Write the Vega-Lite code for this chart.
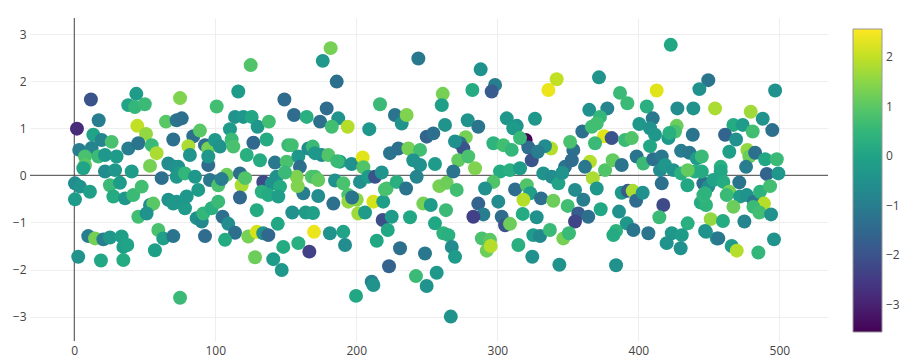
{
"$schema":"https://vega.github.io/schema/vega-lite/v6.json",
"width":798,"height":323,
"autosize":{"type":"none"},
"padding":{"left":30,"top":18,"right":87,"bottom":22},
"background":"white",
"config":{"view":{"stroke":null},"font":"Open Sans"},
"datasets":{"pts":[
{"x":11.8,"y":1.61,"c":-2.0},{"x":1.9,"y":0.99,"c":-2.8},{"x":17.3,"y":1.17,"c":-1.0},{"x":44,"y":1.73,"c":-0.2},{"x":38.3,"y":1.49,"c":0.0},{"x":43,"y":1.45,"c":0.5},{"x":50,"y":1.51,"c":0.6},{"x":44.7,"y":1.05,"c":2.0},{"x":50.9,"y":0.88,"c":1.6},{"x":65,"y":1.14,"c":1.0},{"x":75,"y":1.64,"c":1.4},{"x":13.5,"y":0.86,"c":0},{"x":19.4,"y":0.75,"c":-0.8},{"x":26.5,"y":0.71,"c":0.8},{"x":3.5,"y":0.54,"c":-1.0},{"x":12.3,"y":0.58,"c":-0.8},{"x":7.6,"y":0.40,"c":0.8},{"x":7.6,"y":0.22,"c":1.0},{"x":6.4,"y":0.15,"c":0.0},{"x":17,"y":0.40,"c":0.6},{"x":21.8,"y":0.43,"c":-0.3},{"x":30,"y":0.40,"c":-0.2},{"x":21.8,"y":0.08,"c":-0.6},{"x":28.9,"y":0.11,"c":-0.3},{"x":38.3,"y":0.57,"c":-1.0},{"x":45.4,"y":0.68,"c":-1.2},{"x":54.9,"y":0.64,"c":0.6},{"x":58.4,"y":0.47,"c":1.8},{"x":53.7,"y":0.20,"c":1.3},{"x":62,"y":-0.06,"c":-1.3},{"x":66.7,"y":0.25,"c":-0.6},{"x":71.4,"y":0.18,"c":-0.5},{"x":40.7,"y":0.08,"c":-0.2},{"x":0.5,"y":-0.17,"c":-0.6},{"x":4,"y":-0.24,"c":-0.4},{"x":11.1,"y":-0.35,"c":-0.1},{"x":0.5,"y":-0.51,"c":-0.2},{"x":25.3,"y":-0.21,"c":0.6},{"x":32.4,"y":-0.16,"c":-0.2},{"x":27.7,"y":-0.45,"c":0.2},{"x":36,"y":-0.49,"c":-0.3},{"x":41.8,"y":-0.42,"c":0.6},{"x":47.8,"y":-0.24,"c":0.7},{"x":53.7,"y":-0.63,"c":-0.6},{"x":56,"y":-0.6,"c":1.0},{"x":45.4,"y":-0.88,"c":0.7},{"x":51.3,"y":-0.81,"c":-0.4},{"x":66.7,"y":-0.52,"c":-0.5},{"x":70.2,"y":-0.6,"c":-0.3},{"x":59.6,"y":-1.16,"c":0.8},{"x":63.1,"y":-1.34,"c":-0.1},{"x":70.2,"y":-1.29,"c":-1.2},{"x":57.2,"y":-1.59,"c":-0.1},{"x":9.9,"y":-1.29,"c":-1.0},{"x":14.7,"y":-1.34,"c":1.3},{"x":20.6,"y":-1.36,"c":-1.0},{"x":25.3,"y":-1.32,"c":-0.3},{"x":33.6,"y":-1.30,"c":-0.1},{"x":34.8,"y":-1.52,"c":-0.1},{"x":37.6,"y":-1.48,"c":0.0},{"x":2.8,"y":-1.73,"c":-0.4},{"x":18.9,"y":-1.81,"c":0.1},{"x":34.8,"y":-1.80,"c":0.2},{"x":75,"y":-2.6,"c":0.6},{"x":72.6,"y":1.17,"c":-1.2},{"x":70.2,"y":0.76,"c":-1.3},
{"x":125.1,"y":2.34,"c":0.9},{"x":116.3,"y":1.78,"c":-0.2},{"x":101,"y":1.46,"c":0.7},{"x":76.2,"y":1.21,"c":-1.3},{"x":149,"y":1.61,"c":-1.4},{"x":155.8,"y":1.28,"c":-1.4},{"x":164.8,"y":1.24,"c":0.3},{"x":114,"y":1.24,"c":-0.4},{"x":119.9,"y":1.24,"c":-0.3},{"x":125.8,"y":1.24,"c":0.1},{"x":130,"y":1.03,"c":-0.3},{"x":138,"y":1.14,"c":0.7},{"x":110.4,"y":0.98,"c":-0.2},{"x":84.4,"y":0.83,"c":-1.3},{"x":89.1,"y":0.95,"c":1.0},{"x":92.7,"y":0.64,"c":-1.4},{"x":80.9,"y":0.62,"c":1.8},{"x":82,"y":0.43,"c":-0.4},{"x":95,"y":0.57,"c":1.3},{"x":99.8,"y":0.75,"c":-0.3},{"x":103.3,"y":0.61,"c":-0.4},{"x":95,"y":0.22,"c":-1.4},{"x":111.6,"y":0.76,"c":0.6},{"x":112.8,"y":0.61,"c":0.8},{"x":127,"y":0.69,"c":-1.5},{"x":136.4,"y":0.76,"c":0.2},{"x":122.3,"y":0.43,"c":0.3},{"x":131.7,"y":0.32,"c":0.2},{"x":142.3,"y":0.27,"c":-1.1},{"x":151.8,"y":0.64,"c":0.6},{"x":154.2,"y":0.64,"c":0.7},{"x":150.6,"y":0.29,"c":0.8},{"x":158.9,"y":0.40,"c":-0.3},{"x":160,"y":0.18,"c":-1.3},{"x":157.7,"y":-0.03,"c":1.4},{"x":166,"y":0.57,"c":-0.6},{"x":168.4,"y":-0.03,"c":0.9},{"x":73.8,"y":0.18,"c":-0.5},{"x":74.7,"y":0.04,"c":-0.2},{"x":72.6,"y":-0.03,"c":-0.3},{"x":78.5,"y":0.04,"c":0.5},{"x":85.6,"y":-0.03,"c":-0.3},{"x":87.9,"y":-0.31,"c":-0.2},{"x":96.2,"y":-0.10,"c":-1.1},{"x":102.1,"y":-0.21,"c":0.8},{"x":108.1,"y":0.01,"c":1.2},{"x":104.5,"y":-0.08,"c":-1.0},{"x":117.5,"y":0.04,"c":-1.3},{"x":118.7,"y":-0.21,"c":1.8},{"x":121.1,"y":-0.06,"c":0.9},{"x":117.5,"y":-0.47,"c":-1.5},{"x":134,"y":-0.14,"c":-2.2},{"x":140,"y":-0.17,"c":-0.4},{"x":143.5,"y":-0.03,"c":-0.5},{"x":145.9,"y":-0.24,"c":0.2},{"x":132.9,"y":-0.35,"c":0.3},{"x":137.6,"y":-0.42,"c":0.2},{"x":144.7,"y":-0.45,"c":-0.1},{"x":149.4,"y":0.06,"c":0.6},{"x":162.4,"y":-0.38,"c":-1.0},{"x":158.4,"y":-0.23,"c":1.4},{"x":72.6,"y":-0.56,"c":-0.3},{"x":78.5,"y":-0.70,"c":-0.2},{"x":79.7,"y":-0.45,"c":-0.3},{"x":86.8,"y":-0.91,"c":-0.5},{"x":90.4,"y":-0.98,"c":-0.7},{"x":91.5,"y":-0.81,"c":0.5},{"x":97.4,"y":-0.70,"c":0.3},{"x":102.1,"y":-0.56,"c":0.6},{"x":105.2,"y":-0.88,"c":-1.3},{"x":109.2,"y":-1.03,"c":-0.6},{"x":114,"y":-1.22,"c":-1.3},{"x":106.9,"y":-1.37,"c":0.2},{"x":92.7,"y":-1.29,"c":-1.4},{"x":129.4,"y":-0.74,"c":0.2},{"x":123.4,"y":-1.30,"c":1.3},{"x":129.4,"y":-1.20,"c":2.2},{"x":134,"y":-1.23,"c":-0.5},{"x":137.6,"y":-1.27,"c":-1.5},{"x":144.3,"y":-1.03,"c":0.1},{"x":128.2,"y":-1.74,"c":1.2},{"x":141.1,"y":-1.78,"c":-0.2},{"x":147.1,"y":-2.01,"c":-0.3},{"x":148.2,"y":-1.52,"c":0.2},{"x":158.9,"y":-1.44,"c":0.3},{"x":154.6,"y":-0.79,"c":-0.5},{"x":164.1,"y":-0.79,"c":-0.2},{"x":166.7,"y":-1.62,"c":-2.4},{"x":170,"y":-1.2,"c":2.4},{"x":95,"y":0.40,"c":-0.3},
{"x":181.8,"y":2.70,"c":1.3},{"x":176.2,"y":2.43,"c":-0.3},{"x":186.1,"y":1.99,"c":-1.3},{"x":244,"y":2.48,"c":-1.1},{"x":179,"y":1.42,"c":-1.4},{"x":174.3,"y":1.14,"c":-1.3},{"x":187.2,"y":1.21,"c":-0.4},{"x":182.6,"y":1.03,"c":0.7},{"x":193.9,"y":1.03,"c":1.9},{"x":209.2,"y":0.98,"c":-0.3},{"x":216.8,"y":1.51,"c":0.6},{"x":227.4,"y":1.28,"c":-1.2},{"x":232.2,"y":1.10,"c":-0.4},{"x":235.7,"y":1.28,"c":1.4},{"x":261.3,"y":1.73,"c":1.3},{"x":260.6,"y":1.49,"c":-0.1},{"x":262.9,"y":1.07,"c":-0.4},{"x":249.9,"y":0.82,"c":-1.6},{"x":254.6,"y":0.89,"c":-1.3},{"x":169.1,"y":0.61,"c":0.6},{"x":175.5,"y":0.43,"c":-0.6},{"x":180.1,"y":0.43,"c":0.9},{"x":188.4,"y":0.29,"c":0.0},{"x":196.7,"y":0.24,"c":-0.5},{"x":204.5,"y":0.38,"c":2.3},{"x":205,"y":0.17,"c":0.9},{"x":223.9,"y":0.47,"c":-1.2},{"x":229.8,"y":0.57,"c":-1.3},{"x":236.9,"y":0.57,"c":1.3},{"x":245.2,"y":0.54,"c":0.7},{"x":240.4,"y":0.32,"c":-0.4},{"x":245.2,"y":0.22,"c":-0.5},{"x":255.8,"y":0.24,"c":-0.2},{"x":170.7,"y":-0.03,"c":0.8},{"x":173,"y":-0.1,"c":1.1},{"x":184.9,"y":-0.11,"c":-0.5},{"x":190.8,"y":-0.17,"c":0.8},{"x":202.6,"y":-0.14,"c":-0.5},{"x":208.5,"y":-0.03,"c":-0.2},{"x":213.3,"y":-0.03,"c":-2.0},{"x":218,"y":0.06,"c":-0.4},{"x":221.5,"y":-0.28,"c":0.8},{"x":228.6,"y":-0.14,"c":0.3},{"x":235.3,"y":-0.28,"c":-1.2},{"x":242.8,"y":-0.03,"c":-0.8},{"x":258.9,"y":-0.23,"c":1.3},{"x":264.1,"y":-0.16,"c":1.2},{"x":173,"y":-0.44,"c":-0.6},{"x":183.7,"y":-0.6,"c":-1.3},{"x":194.3,"y":-0.42,"c":0.8},{"x":194.3,"y":-0.56,"c":1.6},{"x":200.3,"y":-0.52,"c":1.5},{"x":201.4,"y":-0.81,"c":1.7},{"x":206.2,"y":-0.79,"c":-0.2},{"x":212.1,"y":-0.56,"c":2.2},{"x":219.1,"y":-0.56,"c":-0.1},{"x":220.3,"y":-0.30,"c":0.8},{"x":218.7,"y":-0.95,"c":-2.1},{"x":225.1,"y":-0.88,"c":-0.2},{"x":222.3,"y":-1.16,"c":0.1},{"x":214.5,"y":-1.39,"c":0.1},{"x":238.1,"y":-0.89,"c":0.1},{"x":247.5,"y":-0.6,"c":1.3},{"x":252.8,"y":-0.63,"c":-0.2},{"x":255.8,"y":-1.02,"c":0.1},{"x":261.7,"y":-1.23,"c":0.4},{"x":263.6,"y":-0.74,"c":0.6},{"x":231,"y":-1.55,"c":-1.3},{"x":248.7,"y":-1.66,"c":-1.1},{"x":223.2,"y":-1.93,"c":-1.6},{"x":210.9,"y":-2.26,"c":-0.9},{"x":212.1,"y":-2.33,"c":-0.4},{"x":199.8,"y":-2.56,"c":0.1},{"x":242.3,"y":-2.14,"c":0.6},{"x":249.9,"y":-2.35,"c":-0.4},{"x":257,"y":-2.07,"c":-0.3},{"x":267,"y":-3.0,"c":-0.4},{"x":169.3,"y":-0.8,"c":-0.1},{"x":181.3,"y":-1.23,"c":-0.4},{"x":190.8,"y":-1.20,"c":0.0},{"x":192,"y":-1.48,"c":-0.6},{"x":170.7,"y":0.47,"c":-0.3},{"x":186.5,"y":0.30,"c":0.6},{"x":197,"y":-0.47,"c":-1.2},
{"x":288.2,"y":2.25,"c":-0.5},{"x":342.1,"y":2.04,"c":2.0},{"x":336.2,"y":1.81,"c":2.4},{"x":298.4,"y":1.92,"c":-1.0},{"x":296,"y":1.78,"c":-1.8},{"x":282.3,"y":1.81,"c":0.2},{"x":326.7,"y":1.20,"c":-0.3},{"x":306.7,"y":1.21,"c":-0.3},{"x":313.8,"y":1.05,"c":-0.4},{"x":311.3,"y":1.0,"c":-0.2},{"x":279,"y":1.17,"c":-0.4},{"x":286.5,"y":1.03,"c":-1.2},{"x":320.1,"y":0.75,"c":-3.5},{"x":338.1,"y":0.57,"c":1.9},{"x":322,"y":0.59,"c":-1.4},{"x":324.4,"y":0.32,"c":-2.0},{"x":333.8,"y":0.62,"c":-0.6},{"x":328.7,"y":0.50,"c":-1.0},{"x":297.2,"y":0.68,"c":0.4},{"x":304.3,"y":0.64,"c":0.7},{"x":310.2,"y":0.54,"c":0.5},{"x":316.1,"y":0.79,"c":0.6},{"x":277.6,"y":0.81,"c":1.3},{"x":273.5,"y":0.68,"c":-1.3},{"x":275.9,"y":0.57,"c":-2.0},{"x":272.3,"y":0.32,"c":1.1},{"x":279.4,"y":0.40,"c":0.8},{"x":284.2,"y":0.15,"c":1.4},{"x":268.8,"y":0.08,"c":-1.2},{"x":301.9,"y":0.08,"c":0.2},{"x":309,"y":0.11,"c":0.3},{"x":316.1,"y":0.15,"c":-0.2},{"x":297.2,"y":-0.14,"c":0.9},{"x":291.3,"y":-0.28,"c":-0.5},{"x":312.6,"y":-0.30,"c":-1.4},{"x":320.9,"y":-0.21,"c":0.9},{"x":323.3,"y":-0.38,"c":-0.1},{"x":318.5,"y":-0.52,"c":1.9},{"x":332.6,"y":0.04,"c":-0.4},{"x":338.6,"y":-0.03,"c":-0.6},{"x":343.3,"y":-0.17,"c":0.0},{"x":348,"y":0.18,"c":-1.2},{"x":353.9,"y":0.54,"c":-1.3},{"x":352.8,"y":0.32,"c":-1.4},{"x":351.6,"y":0.71,"c":0.8},{"x":360.3,"y":0.93,"c":-1.3},{"x":331,"y":-0.49,"c":-1.3},{"x":339.7,"y":-0.54,"c":1.2},{"x":349.9,"y":-0.65,"c":0.7},{"x":355.1,"y":-0.31,"c":-0.6},{"x":357.4,"y":-0.81,"c":-1.8},{"x":355.1,"y":-0.98,"c":-2.3},{"x":271.2,"y":-0.31,"c":0.7},{"x":286.5,"y":-0.6,"c":-1.6},{"x":290.1,"y":-0.83,"c":-1.0},{"x":283,"y":-0.88,"c":-2.4},{"x":300.7,"y":-0.56,"c":-0.6},{"x":303.1,"y":-0.88,"c":-1.4},{"x":305.5,"y":-1.06,"c":-2.0},{"x":309,"y":-1.03,"c":1.2},{"x":318,"y":-0.82,"c":0.2},{"x":327.9,"y":-0.89,"c":-0.5},{"x":325.5,"y":-1.27,"c":-0.2},{"x":330.3,"y":-1.29,"c":-0.7},{"x":337.3,"y":-1.16,"c":0.6},{"x":346.8,"y":-1.34,"c":1.3},{"x":350.8,"y":-1.23,"c":0.6},{"x":314.9,"y":-1.48,"c":0.3},{"x":324.8,"y":-1.73,"c":-0.5},{"x":344,"y":-1.90,"c":-0.4},{"x":289,"y":-1.34,"c":0.8},{"x":294.8,"y":-1.37,"c":1.0},{"x":292.5,"y":-1.60,"c":1.2},{"x":295.3,"y":-1.50,"c":1.9},{"x":265.3,"y":-1.27,"c":0.3},{"x":267.7,"y":-1.52,"c":-0.6},{"x":270,"y":-1.73,"c":-0.2},{"x":270,"y":0.72,"c":-0.5},{"x":346,"y":0.05,"c":-0.4},
{"x":423,"y":2.77,"c":0.1},{"x":372.1,"y":2.08,"c":-0.4},{"x":413,"y":1.80,"c":2.3},{"x":387,"y":1.75,"c":0.6},{"x":392.2,"y":1.53,"c":0.6},{"x":449.6,"y":2.02,"c":-1.2},{"x":443.3,"y":1.83,"c":-0.5},{"x":454.4,"y":1.42,"c":1.8},{"x":365.2,"y":1.39,"c":-0.5},{"x":378,"y":1.42,"c":-0.8},{"x":372.8,"y":1.24,"c":0.5},{"x":370.5,"y":1.10,"c":0.7},{"x":367,"y":1.03,"c":0.7},{"x":406,"y":1.46,"c":0.3},{"x":410.2,"y":1.21,"c":-1.1},{"x":427.7,"y":1.42,"c":-0.6},{"x":439,"y":1.42,"c":-0.4},{"x":427.2,"y":1.05,"c":1.2},{"x":426,"y":0.93,"c":0.8},{"x":438.6,"y":0.86,"c":-1.2},{"x":375.7,"y":0.83,"c":2.3},{"x":381.1,"y":0.79,"c":-2.0},{"x":369.3,"y":0.68,"c":0.6},{"x":390.6,"y":0.75,"c":0.6},{"x":395.3,"y":0.79,"c":0.9},{"x":400.7,"y":1.09,"c":-0.3},{"x":408.3,"y":1.0,"c":-0.4},{"x":411.8,"y":0.86,"c":-0.3},{"x":408.3,"y":0.62,"c":0.1},{"x":421.3,"y":0.79,"c":-0.3},{"x":422,"y":0.9,"c":0.3},{"x":430.3,"y":0.52,"c":-1.0},{"x":436.2,"y":0.48,"c":-1.1},{"x":441.4,"y":0.36,"c":-0.2},{"x":440.2,"y":0.08,"c":0.3},{"x":365.7,"y":0.29,"c":1.9},{"x":362.2,"y":0.18,"c":-1.1},{"x":376.4,"y":0.11,"c":0.9},{"x":381.8,"y":0.32,"c":1.1},{"x":388.2,"y":0.22,"c":-1.2},{"x":398.8,"y":0.40,"c":-1.2},{"x":403.5,"y":0.25,"c":0.6},{"x":410.6,"y":0.34,"c":-1.3},{"x":416.6,"y":0.40,"c":-1.1},{"x":415.4,"y":0.11,"c":-0.6},{"x":419,"y":0.22,"c":-0.3},{"x":424.8,"y":0.11,"c":-0.4},{"x":430.3,"y":0.04,"c":0.3},{"x":435,"y":0.11,"c":1.1},{"x":367.7,"y":-0.06,"c":1.8},{"x":370.5,"y":-0.28,"c":-0.3},{"x":361,"y":-0.52,"c":-1.0},{"x":416.6,"y":-0.17,"c":-1.3},{"x":434.8,"y":-0.21,"c":0.1},{"x":446.1,"y":-0.17,"c":-1.3},{"x":449.6,"y":-0.24,"c":-0.6},{"x":388.2,"y":-0.37,"c":-0.3},{"x":392.5,"y":-0.33,"c":-1.8},{"x":396,"y":-0.33,"c":1.8},{"x":398.4,"y":-0.54,"c":-1.4},{"x":403.1,"y":-0.37,"c":-0.5},{"x":417.7,"y":-0.63,"c":-2.2},{"x":414.9,"y":-0.89,"c":0.6},{"x":444.3,"y":-0.58,"c":0.2},{"x":448,"y":-0.63,"c":0.4},{"x":446.1,"y":-0.42,"c":0.5},{"x":373.3,"y":-0.72,"c":0.1},{"x":364.5,"y":-0.88,"c":-1.3},{"x":386.3,"y":-0.77,"c":-0.5},{"x":391.8,"y":-1.02,"c":-0.3},{"x":396.5,"y":-1.16,"c":-1.2},{"x":384.2,"y":-1.18,"c":0.4},{"x":382.3,"y":-1.27,"c":0.2},{"x":407.1,"y":-1.23,"c":-1.2},{"x":435,"y":-1.02,"c":0.3},{"x":423.7,"y":-1.23,"c":-0.3},{"x":430.8,"y":-1.27,"c":-0.2},{"x":420.1,"y":-1.44,"c":-0.4},{"x":430,"y":-1.55,"c":-0.5},{"x":448,"y":-1.20,"c":-0.3},{"x":451.3,"y":-0.93,"c":1.6},{"x":455.6,"y":-1.34,"c":-0.4},{"x":384.2,"y":-1.91,"c":-0.5},
{"x":497,"y":1.80,"c":-0.5},{"x":479.7,"y":1.35,"c":1.7},{"x":488.2,"y":1.20,"c":-0.4},{"x":467.4,"y":1.07,"c":0.2},{"x":474,"y":1.07,"c":-0.2},{"x":481.1,"y":0.93,"c":0.7},{"x":495,"y":0.96,"c":-1.3},{"x":461.5,"y":0.86,"c":-1.6},{"x":469.3,"y":0.76,"c":-0.5},{"x":464.5,"y":0.50,"c":-0.1},{"x":477.3,"y":0.54,"c":1.6},{"x":478.7,"y":0.40,"c":1.2},{"x":482.8,"y":0.48,"c":-1.3},{"x":489.9,"y":0.34,"c":0.1},{"x":498.2,"y":0.34,"c":0.6},{"x":476.4,"y":0.18,"c":-1.0},{"x":458.4,"y":0.18,"c":0.3},{"x":458.4,"y":0.08,"c":0.1},{"x":445,"y":0.40,"c":0.6},{"x":445,"y":0.08,"c":0.2},{"x":491.1,"y":0.03,"c":-1.6},{"x":499.3,"y":0.04,"c":-0.3},{"x":453.2,"y":-0.10,"c":0.0},{"x":460.3,"y":-0.14,"c":0.2},{"x":471.6,"y":-0.15,"c":-1.2},{"x":447.3,"y":-0.38,"c":0.4},{"x":464.5,"y":-0.35,"c":1.3},{"x":462.7,"y":-0.42,"c":0.6},{"x":472.1,"y":-0.45,"c":-0.2},{"x":476.9,"y":-0.42,"c":-0.4},{"x":482,"y":-0.56,"c":-1.1},{"x":486.3,"y":-0.35,"c":0.4},{"x":493.4,"y":-0.23,"c":0.7},{"x":489.1,"y":-0.6,"c":1.9},{"x":467.4,"y":-0.67,"c":1.2},{"x":481.6,"y":-0.67,"c":0.6},{"x":485.8,"y":-0.79,"c":0.7},{"x":494.1,"y":-0.83,"c":-0.5},{"x":460,"y":-0.97,"c":0.2},{"x":447.3,"y":-1.18,"c":-0.4},{"x":456.7,"y":-1.34,"c":-1.1},{"x":475.2,"y":-0.98,"c":-0.8},{"x":496.2,"y":-1.36,"c":-0.4},{"x":466.2,"y":-1.50,"c":-0.2},{"x":469.8,"y":-1.60,"c":1.9},{"x":485.1,"y":-1.64,"c":0.5}
]},
"layer":[
{"data":{"values":[{"v":0}]},"mark":{"type":"rule","color":"#444","strokeWidth":1},
 "encoding":{"x":{"field":"v","type":"quantitative","scale":{"domain":[-31.4,534.5],"nice":false,"zero":false},
   "axis":{"title":null,"values":[0,100,200,300,400,500],"format":"d","grid":true,"gridColor":"#eee","gridWidth":1,"domain":false,"ticks":false,"tickSize":0,"labelPadding":4,"labelFont":"Open Sans","labelFontSize":12,"labelColor":"#444"}}}},
{"data":{"values":[{"v":0}]},"mark":{"type":"rule","color":"#444","strokeWidth":1},
 "encoding":{"y":{"field":"v","type":"quantitative","scale":{"domain":[-3.518,3.34],"nice":false,"zero":false},
   "axis":{"title":null,"values":[-3,-2,-1,0,1,2,3],"format":"d","grid":true,"gridColor":"#eee","gridWidth":1,"domain":false,"ticks":false,"tickSize":0,"labelPadding":4,"labelFont":"Open Sans","labelFontSize":12,"labelColor":"#444"}}}},
{"data":{"name":"pts"},"mark":{"type":"circle","size":195,"opacity":1,"strokeWidth":0},
 "encoding":{
  "x":{"field":"x","type":"quantitative","scale":{"domain":[-31.4,534.5],"nice":false,"zero":false},
   "axis":{"title":null,"values":[0,100,200,300,400,500],"format":"d","grid":true,"gridColor":"#eee","gridWidth":1,"domain":false,"ticks":false,"tickSize":0,"labelPadding":4,"labelFont":"Open Sans","labelFontSize":12,"labelColor":"#444"}},
  "y":{"field":"y","type":"quantitative","scale":{"domain":[-3.518,3.34],"nice":false,"zero":false},
   "axis":{"title":null,"values":[-3,-2,-1,0,1,2,3],"format":"d","grid":true,"gridColor":"#eee","gridWidth":1,"domain":false,"ticks":false,"tickSize":0,"labelPadding":4,"labelFont":"Open Sans","labelFontSize":12,"labelColor":"#444"}},
  "color":{"field":"c","type":"quantitative","scale":{"scheme":"viridis","domain":[-3.55,2.57]},
   "legend":{"title":null,"orient":"none","legendX":823,"legendY":11,"direction":"vertical","padding":0,"gradientLength":303,"gradientThickness":29,"gradientStrokeColor":"#999","gradientStrokeWidth":1,"values":[-3,-2,-1,0,1,2],"format":"d","labelFont":"Open Sans","labelFontSize":12,"labelColor":"#444","labelOffset":4,"labelOverlap":false}}
 }}
]
}
